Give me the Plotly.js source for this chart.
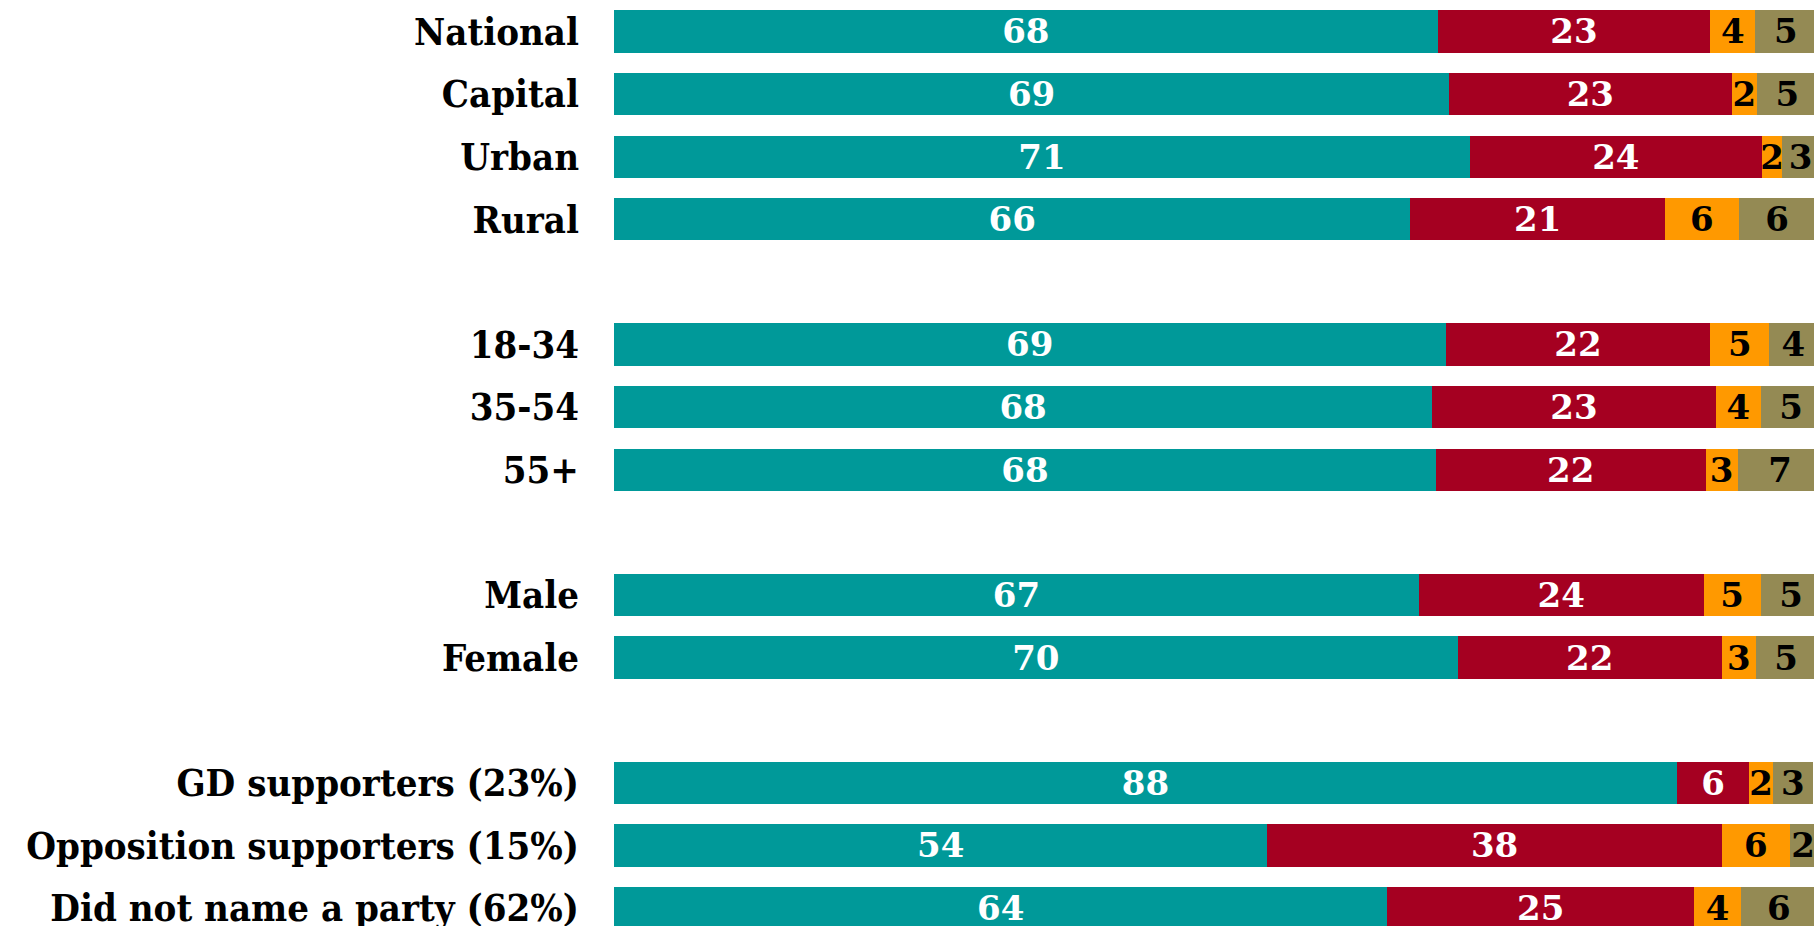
<!DOCTYPE html>
<html>
<head>
<meta charset="utf-8">
<script src="https://cdn.plot.ly/plotly-3.0.1.min.js"></script>
<style>
html,body{margin:0;padding:0;background:#fff;overflow:hidden;}
#chart{width:1814px;height:926px;}
</style>
</head>
<body>
<div id="chart"></div>
<script>
// Row groups (a blank row separates each group)
const groupSettlement = ["National", "Capital", "Urban", "Rural"];
const groupAge = ["18-34", "35-54", "55+"];
const groupGender = ["Male", "Female"];
const groupParty = ["GD supporters (23%)", "Opposition supporters (15%)", "Did not name a party (62%)"];

const categories = [].concat(groupSettlement, groupAge, groupGender, groupParty);

// Segment widths, in the order of `categories`
const seriesA = [67.95, 68.9, 70.6, 65.7, 68.6, 67.5, 67.8, 66.4, 69.6, 87.7, 53.9, 63.8]; // teal
const seriesB = [22.5, 23.3, 24.1, 21.0, 21.85, 23.4, 22.25, 23.5, 21.8, 5.95, 37.5, 25.3]; // red
const seriesC = [3.72, 2.1, 1.7, 6.1, 4.85, 3.7, 2.65, 4.7, 2.8, 1.95, 5.6, 3.9];          // orange
const seriesD = [5.0, 5.0, 3.0, 6.3, 4.0, 5.0, 7.0, 5.0, 5.0, 3.3, 2.2, 6.2];              // olive

// Printed labels (rounded percentages)
const labelsA = [68, 69, 71, 66, 69, 68, 68, 67, 70, 88, 54, 64];
const labelsB = [23, 23, 24, 21, 22, 23, 22, 24, 22, 6, 38, 25];
const labelsC = [4, 2, 2, 6, 5, 4, 3, 5, 3, 2, 6, 4];
const labelsD = [5, 5, 3, 6, 4, 5, 7, 5, 5, 3, 2, 6];

const colors = ["#009999", "#A50021", "#FF9900", "#948A54"];
const textColors = ["#ffffff", "#ffffff", "#000000", "#000000"];
const seriesList = [seriesA, seriesB, seriesC, seriesD];
const labelList = [labelsA, labelsB, labelsC, labelsD];

// category order with blank spacer rows between groups
const groups = [groupSettlement, groupAge, groupGender, groupParty];
const order = [];
groups.forEach((g, i) => {
  g.forEach(c => order.push(c));
  if (i < groups.length - 1) order.push(" ".repeat(i + 1));
});

const labelFont = "'DejaVu Serif Condensed', 'DejaVu Serif', serif";
const numberFont = "'DejaVu Serif', serif";

const traces = seriesList.map((vals, i) => ({
  type: "bar",
  orientation: "h",
  y: categories,
  x: vals,
  text: labelList[i].map(String),
  textposition: "inside",
  insidetextanchor: "middle",
  constraintext: "none",
  textangle: 0,
  textfont: {family: numberFont, size: 34, color: textColors[i], weight: "bold"},
  marker: {color: colors[i], line: {width: 0}},
  hoverinfo: "skip",
  showlegend: false
}));

const layout = {
  width: 1814,
  height: 926,
  margin: {l: 614, r: 0, t: 0, b: 0, pad: 0},
  paper_bgcolor: "#ffffff",
  plot_bgcolor: "#ffffff",
  barmode: "stack",
  bargap: 0.323,
  xaxis: {
    range: [0, 99.0],
    showgrid: false, zeroline: false, showline: false,
    showticklabels: false, ticks: "", fixedrange: true
  },
  yaxis: {
    type: "category",
    categoryorder: "array",
    categoryarray: order,
    range: [14.289, -0.503],
    showgrid: false, zeroline: false, showline: false,
    ticks: "",
    ticklabelstandoff: 34,
    tickfont: {family: labelFont, size: 38, color: "#000000", weight: "bold"},
    fixedrange: true
  }
};

Plotly.newPlot("chart", traces, layout, {displayModeBar: false, staticPlot: true});
</script>
</body>
</html>
